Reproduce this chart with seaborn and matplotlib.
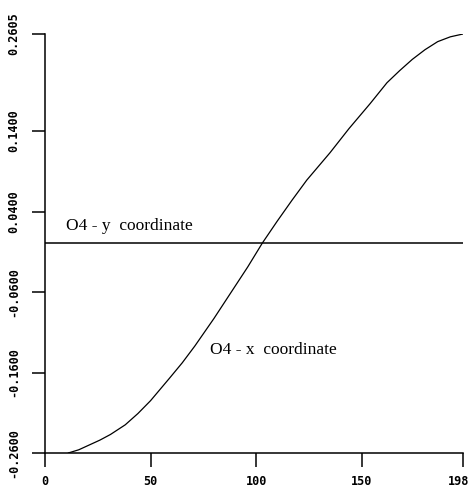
import matplotlib
matplotlib.use("Agg")
import matplotlib.pyplot as plt
import matplotlib.transforms as mtransforms
import seaborn as sns
import pandas as pd

# O4 atom trajectory: x coordinate sampled along the run, y coordinate constant
step = [11, 16, 21, 26, 31, 38, 44, 50, 59, 65, 71, 80, 88, 96, 103, 110, 117, 124,
        135, 144, 154, 162, 168, 174, 180, 186, 192, 198]
o4_x = [-0.260, -0.256, -0.250, -0.244, -0.237, -0.225, -0.211, -0.195, -0.167,
        -0.148, -0.127, -0.093, -0.061, -0.029, 0.001, 0.028, 0.054, 0.079,
        0.113, 0.143, 0.174, 0.200, 0.215, 0.229, 0.241, 0.251, 0.257, 0.2605]
y_step = [0, 198]
o4_y = [0.001, 0.001]

x_ticks = [0, 50, 100, 150, 198]
x_tick_labels = ["0", "50", "100", "150", "198"]
y_ticks = [-0.26, -0.16, -0.06, 0.04, 0.14, 0.2605]
y_tick_labels = ["-0.2600", "-0.1600", "-0.0600", "0.0400", "0.1400", "0.2605"]

sns.set_style("ticks")

fig = plt.figure(figsize=(4.71, 4.92), dpi=100)
ax = fig.add_axes([45 / 471, 39 / 492, 418 / 471, 419 / 492])

df_x = pd.DataFrame({"step": step, "value": o4_x})
df_y = pd.DataFrame({"step": y_step, "value": o4_y})
sns.lineplot(data=df_x, x="step", y="value", ax=ax, color="black", linewidth=0.9)
sns.lineplot(data=df_y, x="step", y="value", ax=ax, color="black", linewidth=1.1)

ax.set_xlim(0, 198)
ax.set_ylim(-0.26, 0.2605)
ax.set_xlabel("")
ax.set_ylabel("")
sns.despine(ax=ax)
for side in ("left", "bottom"):
    ax.spines[side].set_linewidth(1.1)
    ax.spines[side].set_color("black")

tick_font = dict(family="DejaVu Sans Mono", weight="bold", size=8.5)
ax.set_xticks(x_ticks)
ax.set_xticklabels(x_tick_labels, **tick_font)
ax.set_yticks(y_ticks)
ax.set_yticklabels(y_tick_labels, rotation=90, va="center", **tick_font)
ax.tick_params(axis="x", length=10, width=1.1, pad=6, colors="black")
ax.tick_params(axis="y", length=9.5, width=1.1, pad=8, colors="black")

# keep the last x label inside the right edge
last = ax.get_xticklabels()[-1]
last.set_horizontalalignment("right")
last.set_transform(last.get_transform() +
                   mtransforms.ScaledTranslation(6 / 100, 0, fig.dpi_scale_trans))

label_font = dict(family="Liberation Serif", size=12.5, color="black")
ax.text(10, 0.022, "O4 - y  coordinate", va="center", ha="left", **label_font)
ax.text(78, -0.132, "O4 - x  coordinate", va="center", ha="left", **label_font)

fig.savefig("out.png", dpi=100)
